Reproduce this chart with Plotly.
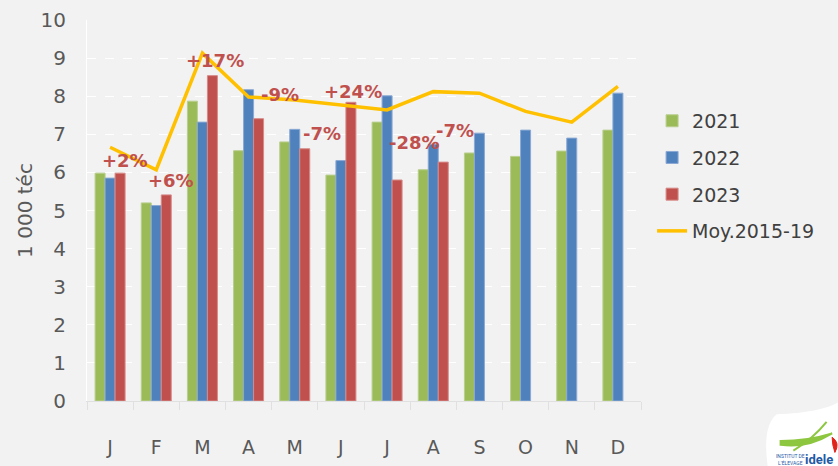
import plotly.graph_objects as go

months = ["J", "F", "M", "A", "M", "J", "J", "A", "S", "O", "N", "D"]
v2021 = [5.98, 5.20, 7.87, 6.57, 6.80, 5.93, 7.32, 6.07, 6.51, 6.42, 6.56, 7.11]
v2022 = [5.85, 5.13, 7.32, 8.17, 7.13, 6.31, 8.01, 6.74, 7.03, 7.11, 6.90, 8.08]
v2023 = [5.98, 5.41, 8.54, 7.41, 6.62, 7.84, 5.80, 6.27]
avg1519 = [6.66, 6.07, 9.13, 7.98, 7.90, 7.76, 7.64, 8.12, 8.08, 7.60, 7.32, 8.26]
pct_labels = ["+2%", "+6%", "+17%", "-9%", "-7%", "+24%", "-28%", "-7%"]
# label placement (offset from category centre, value height)
pct_dx = [0.32, 0.31, 0.27, 0.68, 0.59, 0.26, 0.60, 0.47]
pct_y = [6.32, 5.80, 8.94, 8.04, 7.01, 8.12, 6.78, 7.10]

xi = list(range(len(months)))
FONT = "DejaVu Sans"
GREY = "#595959"

fig = go.Figure()
fig.add_trace(go.Bar(x=xi, y=v2021, name="2021", marker=dict(color="#9bbb59", line=dict(color="#b9cf8e", width=1)), legendgroup="a"))
fig.add_trace(go.Bar(x=xi, y=v2022, name="2022", marker=dict(color="#4f81bd", line=dict(color="#8aa9d4", width=1)), legendgroup="b"))
fig.add_trace(go.Bar(x=xi[:len(v2023)], y=v2023, name="2023", marker=dict(color="#c0504d", line=dict(color="#d68a88", width=1)), legendgroup="c"))
fig.add_trace(go.Scatter(x=xi, y=avg1519, name="Moy.2015-19", mode="lines",
                         line=dict(color="#ffc000", width=3.5), legendgroup="d"))

for i, (t, dx, yy) in enumerate(zip(pct_labels, pct_dx, pct_y)):
    fig.add_annotation(x=i + dx, y=yy, text=t, showarrow=False,
                       font=dict(family=FONT, size=18, color="#c0504d", weight="bold"),
                       xanchor="center", yanchor="middle")

# logo (decorative)
fig.add_shape(type="path", xref="paper", yref="paper",
              path="M 1.245 -0.035 Q 1.33 -0.03 1.36 0.0 L 1.36 -0.2 L 1.232 -0.2 Q 1.215 -0.07 1.245 -0.035 Z",
              fillcolor="white", line=dict(width=0), layer="above")
fig.add_shape(type="path", xref="paper", yref="paper",
              path="M 1.252 -0.115 Q 1.30 -0.125 1.345 -0.085 Q 1.30 -0.105 1.252 -0.105 Z",
              fillcolor="#8dc63f", line=dict(color="#8dc63f", width=2), layer="above")
fig.add_shape(type="path", xref="paper", yref="paper",
              path="M 1.275 -0.13 Q 1.31 -0.10 1.335 -0.055",
              line=dict(color="#8dc63f", width=2), layer="above")
fig.add_shape(type="path", xref="paper", yref="paper",
              path="M 1.345 -0.095 Q 1.36 -0.11 1.35 -0.135 Q 1.345 -0.115 1.345 -0.095 Z",
              fillcolor="#e2231a", line=dict(color="#e2231a", width=1), layer="above")
fig.add_annotation(xref="paper", yref="paper", x=1.322, y=-0.153, text="<b>idele</b>", showarrow=False,
                   font=dict(family="Roboto", size=13, color="#1f5aa6"), xanchor="center", yanchor="middle")
fig.add_annotation(xref="paper", yref="paper", x=1.27, y=-0.153, text="INSTITUT DE<br>L'ÉLEVAGE", showarrow=False,
                   font=dict(family="Roboto", size=5, color="#1f5aa6"), xanchor="center", yanchor="middle")

fig.update_layout(
    width=838, height=466,
    margin=dict(l=87, r=197, t=20, b=65, autoexpand=False),
    paper_bgcolor="#f2f2f2", plot_bgcolor="#f2f2f2",
    barmode="group", bargap=0.35, bargroupgap=0,
    font=dict(family=FONT, color=GREY),
    showlegend=True,
    legend=dict(x=1.02, y=0.785, xanchor="left", yanchor="top",
                font=dict(family=FONT, size=19, color="#404040"),
                tracegroupgap=9, bgcolor="rgba(0,0,0,0)"),
)
fig.update_xaxes(tickmode="array", tickvals=xi, ticktext=months, range=[-0.5, 11.5],
                 tickfont=dict(family=FONT, size=19, color=GREY),
                 showgrid=False, showline=True, linecolor="#e0e0e0", linewidth=1,
                 ticks="", automargin=False,
                 minor=dict(tick0=-0.5, dtick=1, ticks="outside", ticklen=8, tickcolor="#e0e0e0", showgrid=False),
                 ticklabelstandoff=29, zeroline=False)
fig.update_yaxes(range=[0, 10], dtick=1, tickfont=dict(family=FONT, size=20, color=GREY),
                 showgrid=True, gridcolor="#ffffff", griddash="dash", gridwidth=1,
                 showline=True, linecolor="#ffffff", zeroline=False, automargin=False,
                 ticklabelstandoff=16,
                 title=dict(text="1 000 téc", font=dict(family=FONT, size=20, color=GREY), standoff=2))

fig.write_html("out.html", config={"displayModeBar": False},
               post_script="document.body.style.margin='0';document.body.style.padding='0';document.body.style.background='#f2f2f2';")
